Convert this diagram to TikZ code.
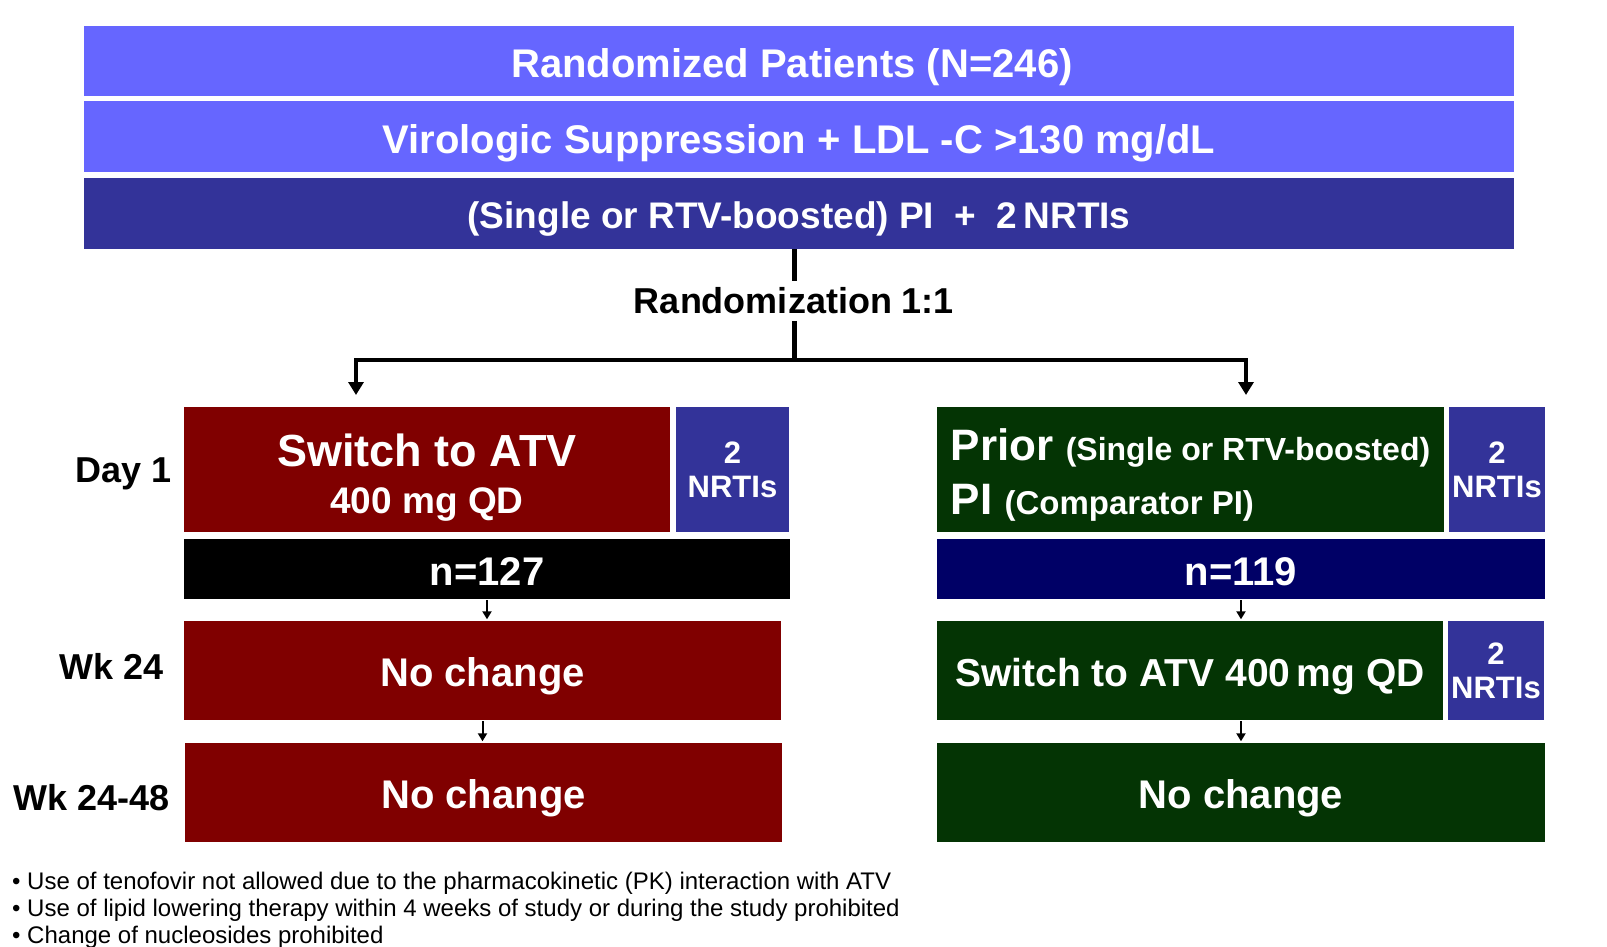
\documentclass[tikz,border=0pt]{standalone}
\usepackage{fontspec}
\setmainfont{Liberation Sans}
\usetikzlibrary{arrows.meta,positioning}

\definecolor{lightblue}{RGB}{102,102,255}
\definecolor{darkblue}{RGB}{51,51,153}
\definecolor{maroon}{RGB}{128,0,0}
\definecolor{darkgreen}{RGB}{4,52,4}
\definecolor{navy}{RGB}{0,0,102}
\newcommand{\txtsize}[2]{\fontsize{#1}{#2}\selectfont}

\tikzset{
  band/.style={fill=#1, text=white, inner sep=0pt, font=\bfseries\txtsize{40}{44}},
  solo/.style={band=#1, text height=32.6pt, text depth=0pt},
  nrti/.style={band=darkblue, align=center, font=\bfseries\txtsize{31}{34}, text depth=0pt},
  stage/.style={anchor=base east, inner sep=0pt, font=\bfseries\txtsize{36}{40}},
  trunk/.style={line width=5pt},
  branch/.style={line width=4pt, -{Triangle[width=15pt,length=13pt]}},
  tick/.style={line width=2pt, -{Triangle[width=9pt,length=8pt]}, shorten >=1.5pt, shorten <=1pt}
}

\begin{document}
\begin{tikzpicture}[x=1pt,y=-1pt]
    \useasboundingbox (0,0) rectangle (1607,947);
    % Header bands:
    \node[solo=lightblue, minimum width=1430, minimum height=70] (pop) at (799,61) {Randomized Patients (N=246)\kern14pt};
    \node[solo=lightblue, minimum width=1430, minimum height=71] (supp) at (799,137) {Virologic Suppression + LDL -C >130 mg/dL};
    \node[solo=darkblue, minimum width=1430, minimum height=71, font=\bfseries\txtsize{37}{40}, text height=30.5pt] (regimen) at (799,213.5) {(Single or RTV-boosted) PI~~+~~2\,NRTIs};
    % Randomization split:
    \node[font=\bfseries\txtsize{36}{40}, inner xsep=2pt, inner ysep=6.5pt] (rand) at (794,301) {Randomization 1:1};
    \coordinate (split) at (794,360);
    \coordinate (armA) at (356,395);
    \coordinate (armB) at (1246,395);
    \draw[trunk] (rand |- regimen.south) -- (rand.north);
    \draw[trunk] (rand.south) -- (split);
    \draw[branch] (split) -| (armA);
    \draw[branch] (split) -| (armB);
    % ATV arm:
    \node[band=maroon, minimum width=486, minimum height=125, align=center, font=\bfseries\txtsize{37}{47}, text depth=0pt] (atv) at (427,469.5) {\rule{0pt}{41.5pt}{\txtsize{45}{47}Switch to ATV}\\400 mg QD};
    \node[nrti, minimum width=113, minimum height=125] (nrtiA) at (732.5,469.5) {2\\NRTIs};
    \node[solo=black, minimum width=606, minimum height=60] (nA) at (487,569) {n=127};
    \node[solo=maroon, minimum width=597, minimum height=99] (wkA) at (482.5,670.5) {No change};
    \node[solo=maroon, minimum width=597, minimum height=99] (endA) at (483.5,792.5) {No change};
    % Comparator arm:
    \node[band=darkgreen, minimum width=507, minimum height=125, align=left, font=\bfseries\txtsize{44}{54}, text depth=0pt] (prior) at (1190.5,469.5) {\rule{0pt}{36pt}Prior {\txtsize{32}{54}(Single or RTV-boosted)}\\PI {\txtsize{33}{54}(Comparator PI)}};
    \node[nrti, minimum width=96, minimum height=125] (nrtiB) at (1497,469.5) {2\\NRTIs};
    \node[solo=navy, minimum width=608, minimum height=60] (nB) at (1241,569) {n=119};
    \node[solo=darkgreen, minimum width=506, minimum height=99, font=\bfseries\txtsize{39}{42}, text height=31.9pt] (wkB) at (1190,670.5) {Switch to ATV 400\,mg QD};
    \node[nrti, minimum width=96, minimum height=99] (nrtiC) at (1496,670.5) {2\\NRTIs};
    \node[solo=darkgreen, minimum width=608, minimum height=99] (endB) at (1241,792.5) {No change};
    % Steps down:
    \draw[tick] (nA.south) -- (nA.south |- wkA.north);
    \draw[tick] (wkA.south) -- (wkA.south |- endA.north);
    \draw[tick] (nB.south) -- (nB.south |- wkB.north);
    \draw[tick] (endB.north |- wkB.south) -- (endB.north);
    % Time points:
    \node[stage] (day) at (172,482) {Day 1};
    \node[stage] (wk) at (164,679) {Wk 24};
    \node[stage] (wkend) at (170,810) {Wk 24-48};
    % Notes:
    \node[anchor=west, align=left, inner sep=0pt, font=\txtsize{24}{27}] (notes) at (12,910) {• Use of tenofovir not allowed due to the pharmacokinetic (PK) interaction with ATV\\• Use of lipid lowering therapy within 4 weeks of study or during  the study prohibited\\• Change of nucleosides prohibited};
\end{tikzpicture}
\end{document}
